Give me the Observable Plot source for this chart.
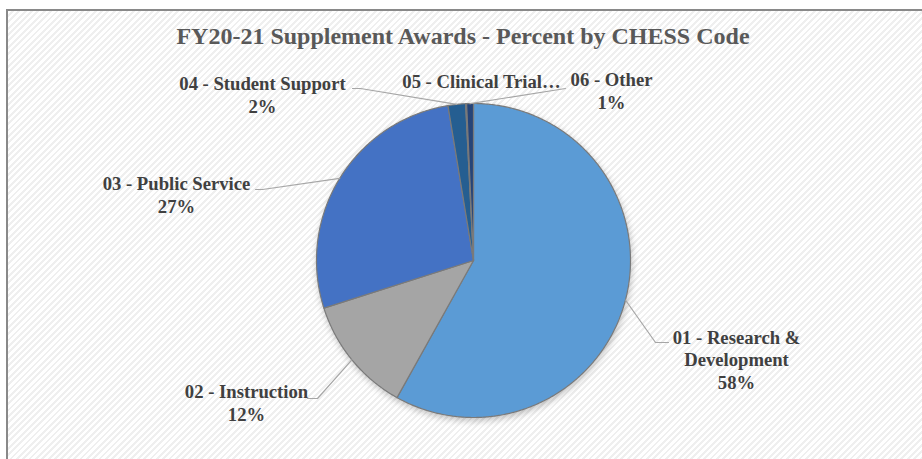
<!DOCTYPE html>
<html>
<head>
<meta charset="utf-8">
<script src="https://cdn.jsdelivr.net/npm/d3@7"></script>
<script src="https://cdn.jsdelivr.net/npm/@observablehq/plot@0.6"></script>
<style>
  html, body { margin: 0; padding: 0; width: 922px; height: 459px; overflow: hidden; background: #fff; }
  #frame {
    position: absolute; left: 6px; top: 9px; width: 940px; height: 470px;
    border-left: 2px solid #898989; border-top: 2px solid #898989;
    background: repeating-linear-gradient(135deg, #ffffff 0px, #ffffff 2.5px, #efefef 2.5px, #efefef 4.5px);
    z-index: 0;
  }
  #content { position: absolute; left: 0; top: 0; width: 922px; z-index: 1; }
  #title {
    height: 58px; box-sizing: border-box; padding-top: 24px; line-height: 24px;
    text-align: center; font-family: 'Liberation Serif', 'Times New Roman', serif;
    font-weight: bold; font-size: 24px; color: #595959;
    padding-left: 4px;
  }
</style>
</head>
<body>
<div id="frame"></div>
<div id="content">
  <div id="title">FY20-21 Supplement Awards - Percent by CHESS Code</div>
  <div id="chart"></div>
</div>
<script>
// ---- data ----
const categories = [
  "01 - Research & Development",
  "02 - Instruction",
  "03 - Public Service",
  "04 - Student Support",
  "05 - Clinical Trial\u2026",
  "06 - Other"
];
const percents = [58.1, 12.0, 27.3, 1.8, 0.1, 0.7];
const colors = ["#5B9BD5", "#A5A5A5", "#4472C4", "#255E91", "#636363", "#264478"];

// ---- layout (pixels relative to pie centre, y downwards) ----
const R = 157;            // pie radius in px
const CX = 473, CY = 202; // pie centre within the svg
const showPct = [true, true, true, true, false, true];
const labelText = [[263, 128], [-227, 160], [-297, -48], [-211, -148], [8, -173], [138, -152]];
const leaderElbow = [[182, 82], [-156, 138], [-211, -71], [-113, -172], null, [92, -172]];
const leaderEnd   = [[195, 82], [-166, 138], [-218, -71], [-121, -172], null, [92, -172]];

const toUnit = ([dx, dy]) => ({x: dx / R, y: -dy / R});

// ---- pie geometry ----
const arcs = d3.pie().sort(null).value(d => d)(percents);
const slicePts = [];
arcs.forEach((a, i) => {
  const key = categories[i];
  slicePts.push({key, x: 0, y: 0});
  const n = Math.max(2, Math.ceil((a.endAngle - a.startAngle) / (Math.PI / 360)));
  for (let k = 0; k <= n; ++k) {
    const t = a.startAngle + (a.endAngle - a.startAngle) * k / n;
    slicePts.push({key, x: Math.sin(t), y: Math.cos(t)});
  }
});

const leaderPts = [];
const labels = [];
arcs.forEach((a, i) => {
  const key = categories[i];
  const mid = (a.startAngle + a.endAngle) / 2;
  if (leaderEnd[i]) {
    leaderPts.push({key, x: Math.sin(mid), y: Math.cos(mid)});
    leaderPts.push({key, ...toUnit(leaderElbow[i])});
    leaderPts.push({key, ...toUnit(leaderEnd[i])});
  }
  const name = categories[i].replace(" & ", " &\n");
  const pct = Math.round(percents[i]) + "%";
  const p = toUnit(labelText[i]);
  labels.push({key, x: p.x, y: p.y, text: showPct[i] ? name + "\n" + pct : name});
});

const plot = Plot.plot({
  width: 922,
  height: 401,
  margin: 0,
  style: {background: "transparent", overflow: "visible"},
  x: {domain: [-1, 1], range: [CX - R, CX + R], axis: null},
  y: {domain: [-1, 1], range: [CY + R, CY - R], axis: null},
  color: {domain: categories, range: colors},
  marks: [
    Plot.line(slicePts, {x: "x", y: "y", z: "key", fill: "key", stroke: "#7a7a7a", strokeWidth: 1.2, curve: "linear-closed", strokeLinejoin: "round"}),
    Plot.line(leaderPts, {x: "x", y: "y", z: "key", stroke: "#a6a6a6", strokeWidth: 1.2}),
    Plot.text(labels, {
      x: "x", y: "y", text: "text",
      textAnchor: "middle", lineAnchor: "bottom", lineHeight: 1.18,
      fontSize: 18.67, fontWeight: "bold", fontFamily: "'Liberation Serif', 'Times New Roman', serif",
      fill: "#404040"
    })
  ]
});
document.getElementById("chart").appendChild(plot);
const gSlices = plot.querySelector('g[aria-label="line"]');
if (gSlices) gSlices.style.filter = "drop-shadow(1px 3px 3px rgba(0,0,0,0.22))";
</script>
</body>
</html>
